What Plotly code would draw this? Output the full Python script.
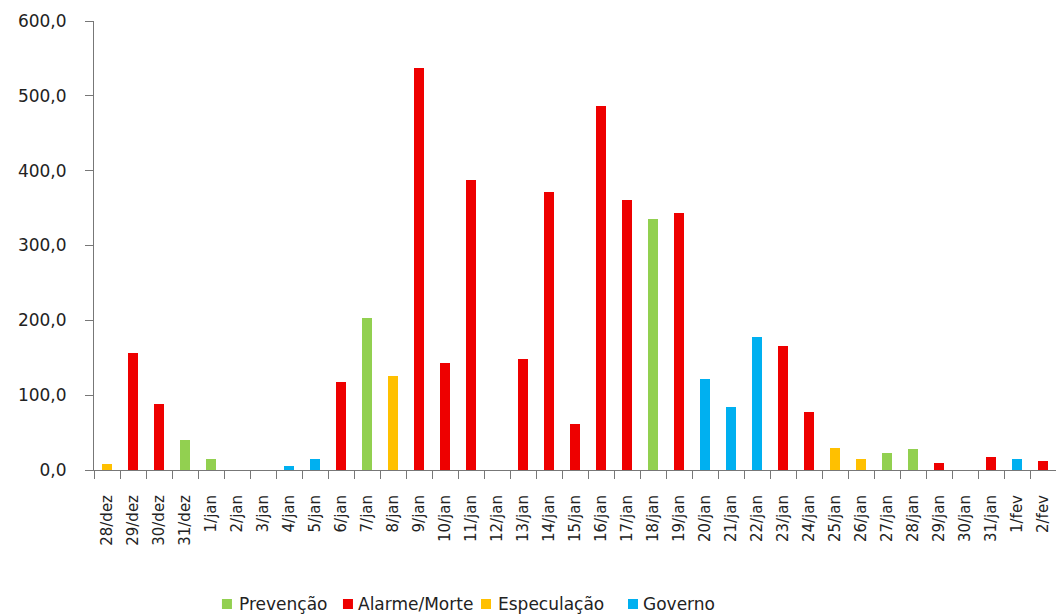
import plotly.graph_objects as go

categories = ["28/dez", "29/dez", "30/dez", "31/dez"] + [f"{d}/jan" for d in range(1, 32)] + ["1/fev", "2/fev"]

# category of each day: P=Prevenção, A=Alarme/Morte, E=Especulação, G=Governo
values = [8, 156, 88, 40, 15, 0, 0, 6, 15, 118,
          203, 126, 537, 143, 388, 0, 148, 371, 62, 486,
          361, 335, 343, 121, 84, 178, 166, 78, 30, 15,
          23, 28, 10, 0, 18, 15, 12]
groups = ["E", "A", "A", "P", "P", None, None, "G", "G", "A",
          "P", "E", "A", "A", "A", None, "A", "A", "A", "A",
          "A", "P", "A", "G", "G", "G", "A", "A", "E", "E",
          "P", "P", "A", None, "A", "G", "A"]

series_keys = ["P", "A", "E", "G"]
series_names = {"P": "Prevenção", "A": "Alarme/Morte", "E": "Especulação", "G": "Governo"}
series_colors = {"P": "#92D050", "A": "#EE0000", "E": "#FFC000", "G": "#00B0F0"}

fig = go.Figure()
for key in series_keys:
    ys = [v if g == key else None for v, g in zip(values, groups)]
    fig.add_trace(go.Bar(x=categories, y=ys, name=series_names[key],
                         marker=dict(color=series_colors[key], line=dict(width=0)),
                         hoverinfo="skip", showlegend=False))

# legend drawn as squares + text below the plot (paper coordinates)
legend_sq_x = [0.133, 0.2588, 0.4023, 0.5551]
legend_txt_x = [0.1486, 0.2723, 0.4179, 0.5686]
for key, sx, tx in zip(series_keys, legend_sq_x, legend_txt_x):
    fig.add_shape(type="rect", xref="paper", yref="paper",
                  x0=sx, x1=sx + 0.0104, y0=-0.3096, y1=-0.2873,
                  fillcolor=series_colors[key], line=dict(width=0))
    fig.add_annotation(xref="paper", yref="paper", x=tx, y=-0.2984,
                       xanchor="left", yanchor="middle", showarrow=False,
                       text=series_names[key], font=dict(size=17, color="#222222"))

fig.update_layout(
    width=1048, height=608,
    barmode="stack", bargap=0.6,
    separators=",.",
    paper_bgcolor="white", plot_bgcolor="white",
    font=dict(family="DejaVu Sans", size=14, color="#222222"),
    margin=dict(l=86, r=0, t=13, b=146),
    showlegend=False,
)
fig.update_xaxes(type="category", tickangle=-90, showline=True, linecolor="#777777",
                 ticks="outside", tickson="boundaries", ticklen=8, tickcolor="#777777",
                 showgrid=False, tickfont=dict(size=15), range=[-0.5, 36.5],
                 automargin=False, ticklabelstandoff=18)
fig.update_yaxes(range=[0, 600], dtick=100, tickformat=".1f", showline=True,
                 linecolor="#777777", ticks="outside", ticklen=8, tickcolor="#777777",
                 showgrid=False, zeroline=False, tickfont=dict(size=17),
                 automargin=False, ticklabelstandoff=15)

fig.write_html("out.html")
